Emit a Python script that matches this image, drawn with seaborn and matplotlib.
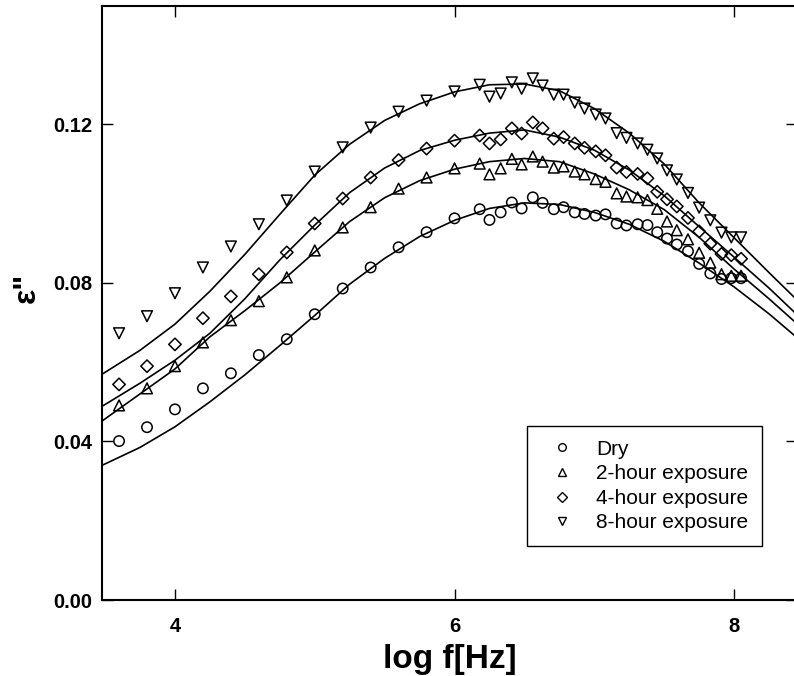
import numpy as np
import pandas as pd
import matplotlib
matplotlib.use("Agg")
import matplotlib.pyplot as plt
from matplotlib.lines import Line2D
import seaborn as sns

# ---------------- data ----------------
log_f = [3.6, 3.8, 4.0, 4.2, 4.4, 4.6, 4.8, 5.0, 5.2, 5.4, 5.6, 5.8, 6.0,
         6.18, 6.25, 6.33, 6.41, 6.48, 6.56, 6.63, 6.71, 6.78, 6.86, 6.93,
         7.01, 7.08, 7.16, 7.23, 7.31, 7.38, 7.45, 7.52, 7.59, 7.67, 7.75,
         7.83, 7.91, 7.98, 8.05]

dry = [0.0401, 0.0436, 0.0481, 0.0534, 0.0572, 0.0618, 0.0658, 0.0721, 0.0786,
       0.0839, 0.0890, 0.0928, 0.0963,
       0.0986, 0.0959, 0.0978, 0.1003, 0.0988, 0.1016, 0.1002, 0.0986, 0.0991,
       0.0978, 0.0974, 0.0970, 0.0973, 0.0950, 0.0945, 0.0948, 0.0946, 0.0928,
       0.0912, 0.0897, 0.0880, 0.0848, 0.0824, 0.0810, 0.0812, 0.0812]

hour2 = [0.0491, 0.0534, 0.0590, 0.0650, 0.0706, 0.0754, 0.0814, 0.0882, 0.0940,
         0.0991, 0.1038, 0.1066, 0.1089,
         0.1101, 0.1074, 0.1089, 0.1113, 0.1099, 0.1119, 0.1106, 0.1091, 0.1094,
         0.1081, 0.1074, 0.1062, 0.1055, 0.1026, 0.1018, 0.1016, 0.1009, 0.0987,
         0.0955, 0.0933, 0.0910, 0.0876, 0.0851, 0.0822, 0.0818, 0.0818]

hour4 = [0.0544, 0.0590, 0.0645, 0.0711, 0.0766, 0.0822, 0.0877, 0.0950, 0.1013,
         0.1066, 0.1110, 0.1139, 0.1159,
         0.1172, 0.1152, 0.1162, 0.1190, 0.1177, 0.1205, 0.1190, 0.1164, 0.1168,
         0.1152, 0.1141, 0.1132, 0.1122, 0.1091, 0.1080, 0.1075, 0.1064, 0.1030,
         0.1011, 0.0993, 0.0964, 0.0930, 0.0899, 0.0873, 0.0870, 0.0861]

hour8 = [0.0673, 0.0716, 0.0774, 0.0839, 0.0892, 0.0948, 0.1008, 0.1081, 0.1142,
         0.1192, 0.1232, 0.1260, 0.1283,
         0.1300, 0.1270, 0.1278, 0.1306, 0.1290, 0.1316, 0.1298, 0.1275, 0.1275,
         0.1255, 0.1240, 0.1225, 0.1215, 0.1178, 0.1166, 0.1152, 0.1136, 0.1114,
         0.1084, 0.1061, 0.1027, 0.0990, 0.0958, 0.0927, 0.0915, 0.0915]

# fitted curves
fit_x = [3.48, 3.75, 4.0, 4.25, 4.5, 4.75, 5.0, 5.25, 5.5, 5.75, 6.0, 6.25, 6.5,
         6.75, 7.0, 7.25, 7.5, 7.75, 8.0, 8.25, 8.45]
fit_dry = [0.0340, 0.0385, 0.0437, 0.0500, 0.0568, 0.0642, 0.0718, 0.0797, 0.0862,
           0.0917, 0.0958, 0.0988, 0.1002, 0.0998, 0.0978, 0.0948, 0.0905, 0.0850,
           0.0790, 0.0722, 0.0662]
fit_2h = [0.0452, 0.0520, 0.0583, 0.0664, 0.0730, 0.0800, 0.0878, 0.0955, 0.1015,
          0.1058, 0.1087, 0.1106, 0.1114, 0.1106, 0.1075, 0.1035, 0.0985, 0.0915,
          0.0835, 0.0760, 0.0697]
fit_4h = [0.0489, 0.0547, 0.0605, 0.0673, 0.0760, 0.0858, 0.0946, 0.1028, 0.1090,
          0.1134, 0.1160, 0.1178, 0.1186, 0.1168, 0.1135, 0.1085, 0.1020, 0.0942,
          0.0865, 0.0787, 0.0720]
fit_8h = [0.0570, 0.0630, 0.0696, 0.0779, 0.0872, 0.0973, 0.1072, 0.1150, 0.1210,
          0.1252, 0.1282, 0.1300, 0.1302, 0.1285, 0.1240, 0.1178, 0.1100, 0.1002,
          0.0914, 0.0826, 0.0757]

labels = ["Dry", "2-hour exposure", "4-hour exposure", "8-hour exposure"]
markers = ["o", "^", "D", "v"]
x_ticks = [4, 6, 8]
y_ticks = [0.00, 0.04, 0.08, 0.12]

# ---------------- figure ----------------
sns.set_theme(style="ticks")
plt.rcParams["font.family"] = ["Liberation Sans", "DejaVu Sans"]
plt.rcParams["text.color"] = "black"
plt.rcParams["axes.labelcolor"] = "black"
plt.rcParams["xtick.color"] = "black"
plt.rcParams["ytick.color"] = "black"

fig = plt.figure(figsize=(7.94, 6.76), dpi=100)
ax = fig.add_axes([102 / 794, 1 - 600 / 676, (797 - 102) / 794, (600 - 5.5) / 676])

series = [dry, hour2, hour4, hour8]
fits = [fit_dry, fit_2h, fit_4h, fit_8h]
sizes = [56, 60, 40, 60]

for lab, ys, fy, mk, sz in zip(labels, series, fits, markers, sizes):
    dfit = pd.DataFrame({"x": fit_x, "y": fy})
    sns.lineplot(data=dfit, x="x", y="y", ax=ax, color="black", linewidth=1.2,
                 sort=False, estimator=None, zorder=2)
    dpts = pd.DataFrame({"x": log_f, "y": ys})
    sns.scatterplot(data=dpts, x="x", y="y", ax=ax, marker=mk, s=sz,
                    color="black", zorder=3)
    coll = ax.collections[-1]
    coll.set_facecolor("none")
    coll.set_edgecolor("black")
    coll.set_linewidth(1.1)

ax.set_xlim(3.478, 8.45)
ax.set_ylim(0, 0.15)
ax.set_xticks(x_ticks)
ax.set_xticklabels([str(t) for t in x_ticks], fontweight="bold")
ax.set_yticks(y_ticks)
ax.set_yticklabels([f"{t:.2f}" for t in y_ticks], fontweight="bold")
ax.tick_params(direction="in", length=8, width=1.0, colors="black",
               labelsize=14.5, top=True, right=True)
ax.tick_params(axis="y", pad=7)
ax.tick_params(axis="x", pad=12)
for sp in ax.spines.values():
    sp.set_visible(True)
    sp.set_color("black")
    sp.set_linewidth(1.5)

ax.set_xlabel("log f[Hz]", fontsize=24, fontweight="bold", labelpad=6,
              color="black")
ax.set_ylabel('ε"', fontsize=23, fontweight="bold", color="black")
ax.yaxis.set_label_coords(-0.086, 0.525)

handles = [Line2D([], [], linestyle="none", marker=m, markersize=5.5,
                  markerfacecolor="none", markeredgecolor="black",
                  markeredgewidth=1.0) for m in markers]
leg = ax.legend(handles, labels, loc="upper left",
                bbox_to_anchor=(527 / 794, 1 - 426 / 676),
                bbox_transform=fig.transFigure, fontsize=15, frameon=True,
                fancybox=False, shadow=False, borderpad=0.65, handlelength=2.05,
                handletextpad=0.62, labelspacing=0.27, borderaxespad=0,
                labelcolor="black")
leg.get_frame().set_edgecolor("black")
leg.get_frame().set_linewidth(1.0)
leg.get_frame().set_alpha(1)

fig.savefig("out.png", dpi=100, facecolor="white")
